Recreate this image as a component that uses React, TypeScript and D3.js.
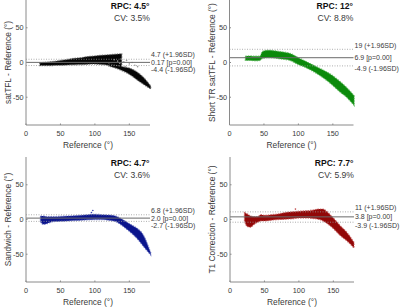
import React from 'react';
import * as d3 from 'd3';

// ---------- data ----------
const xTicks = [0, 50, 100, 150];
const yTicks = [-50, 0, 50];

const panelNames = ['satTFL', 'Short TR satTFL', 'Sandwich', 'T1 Correction'];
const rpcValues = ['4.5', '12', '4.7', '7.7'];
const cvValues = ['3.5', '8.8', '3.6', '5.9'];
const meanValues = [0.17, 6.9, 2.0, 3.8];
const upperLoA = [4.7, 19, 6.8, 11];
const lowerLoA = [-4.4, -4.9, -2.7, -3.9];
const meanLabels = ['0.17', '6.9', '2.0', '3.8'];
const upperLabels = ['4.7', '19', '6.8', '11'];
const lowerLabels = ['-4.4', '-4.9', '-2.7', '-3.9'];
const colors = ['#050505', '#0b8a0b', '#0a148c', '#920808'];
const edgeColors = ['#555555', '#4fb04f', '#4a55b5', '#c04a4a'];

// satTFL point cloud envelope (main branch + descending tail)
const satX = [20, 30, 40, 50, 60, 70, 80, 90, 100, 110, 120, 130, 139];
const satUpper = [-0.5, 0.5, 1.5, 3, 4.5, 6, 7, 8.5, 9.5, 10.5, 11, 12, 12.5];
const satLower = [-4.5, -4.6, -4.3, -4, -3.5, -3.3, -3, -2.5, -2.3, -3, -4, -5.5, -7];
const satTailX = [120, 130, 140, 150, 160, 170, 181];
const satTailUpper = [-2, -4, -6, -8, -13, -21, -34];
const satTailLower = [-5, -8, -12, -17, -24, -31, -38];
const satOutX = [128, 133, 138, 142, 146, 150, 154, 158, 136, 144, 162];
const satOutY = [4, 2, 5, 1, 3, -2, 0, -4, -1, -6, -6];

// Short TR satTFL envelope
const shortX = [23, 30, 38, 44, 48, 55, 65, 75, 88, 100, 110, 120, 130, 140, 150, 160, 170, 181];
const shortUpper = [9, 9.5, 9, 9, 16, 17.5, 17, 15.5, 13, 7, 2, -3, -8, -13, -19, -27, -36, -48];
const shortLower = [3, 3, 2.5, 3, 6, 7, 6.5, 5, 3, -3, -7, -12, -18, -25, -33, -42, -50, -62];

// Sandwich envelope
const sandX = [21, 25, 30, 40, 50, 60, 70, 80, 90, 100, 110, 120, 130, 140, 150, 160, 170, 181];
const sandUpper = [5, 5, 4, 4, 4.5, 5, 5.5, 6, 7, 7.5, 7, 6.5, 5, 0, -6, -12, -22, -48];
const sandLower = [-3, -7, -6, -3, -2.5, -2, -1.5, -1, -0.5, 0, 0, -1, -3, -9, -17, -26, -38, -51];
const sandOutX = [97, 95];
const sandOutY = [13, 10];

// T1 Correction envelope
const t1X = [21, 25, 30, 35, 40, 45, 50, 60, 70, 80, 90, 100, 110, 120, 130, 135, 140, 150, 160, 170, 180];
const t1Upper = [10, 8, 5, 4, 4, 7, 6, 7, 8, 10, 11, 12, 12.5, 13.5, 15, 15, 12, 2, -9, -19, -33];
const t1Lower = [-2, -10, -11, -7, -4, -2, -2, -1, 0, 0.5, 1, 2, 2, 1.5, 0, -2, -5, -13, -23, -31, -41];
const t1OutX = [95];
const t1OutY = [15];

// ---------- layout ----------
const plotLeft = [26, 229.5, 26, 230];
const plotTop = [0, 0, 157, 157];
const plotW = 124;
const plotH = 125;

type Band = { x: number[]; up: number[]; lo: number[] };
const bands: Band[][] = [
  [
    { x: satX, up: satUpper, lo: satLower },
    { x: satTailX, up: satTailUpper, lo: satTailLower },
  ],
  [{ x: shortX, up: shortUpper, lo: shortLower }],
  [{ x: sandX, up: sandUpper, lo: sandLower }],
  [{ x: t1X, up: t1Upper, lo: t1Lower }],
];
const outliers: { x: number[]; y: number[]; c: string }[] = [
  { x: satOutX, y: satOutY, c: '#9a9a9a' },
  { x: [], y: [], c: '#000' },
  { x: sandOutX, y: sandOutY, c: '#3a45b0' },
  { x: t1OutX, y: t1OutY, c: '#c04a4a' },
];

const FONT = '"Liberation Sans", Arial, Helvetica, sans-serif';
const AXIS = '#8a8a8a';
const TEXT = '#3a3a3a';

function Panel({ i }: { i: number }) {
  const L = plotLeft[i];
  const T = plotTop[i];
  const x = d3.scaleLinear().domain([0, 180]).range([L, L + plotW]);
  const y = d3.scaleLinear().domain([-90, 90]).range([T + plotH, T]);
  const R = L + plotW;
  const B = T + plotH;

  const meanY = y(meanValues[i]);
  let upLabY = y(upperLoA[i]) - 4;
  let loLabY = y(lowerLoA[i]) + 3;
  upLabY = Math.min(upLabY, meanY - 7.5);
  loLabY = Math.max(loLabY, meanY + 7.5);

  return (
    <g>
      {/* point cloud */}
      {bands[i].map((b, k) => {
        const pts = b.x.map((xv, j) => ({ x: xv, u: b.up[j], l: b.lo[j] }));
        const area = d3
          .area<{ x: number; u: number; l: number }>()
          .x((d) => x(d.x))
          .y0((d) => y(d.l))
          .y1((d) => y(d.u))
          .curve(d3.curveMonotoneX);
        return (
          <g key={k}>
            <path d={area(pts) || ''} fill={colors[i]} stroke={edgeColors[i]} strokeWidth={1.3} strokeOpacity={0.7} strokeDasharray="1.5 1" />
          </g>
        );
      })}
      {outliers[i].x.map((xv, j) => (
        <circle key={j} cx={x(xv)} cy={y(outliers[i].y[j])} r={0.8} fill={outliers[i].c} />
      ))}

      {/* limits of agreement */}
      <line x1={L} x2={R} y1={y(upperLoA[i])} y2={y(upperLoA[i])} stroke="#9a9a9a" strokeWidth={0.8} strokeDasharray="1 1.5" />
      <line x1={L} x2={R} y1={y(lowerLoA[i])} y2={y(lowerLoA[i])} stroke="#9a9a9a" strokeWidth={0.8} strokeDasharray="1 1.5" />
      <line x1={L} x2={R} y1={meanY} y2={meanY} stroke="#6a6a6a" strokeWidth={1} />

      {/* axes */}
      <line x1={L} x2={L} y1={T} y2={B} stroke={AXIS} strokeWidth={1} />
      <line x1={L} x2={R} y1={B} y2={B} stroke={AXIS} strokeWidth={1} />
      {xTicks.map((t) => (
        <g key={'x' + t}>
          <line x1={x(t)} x2={x(t)} y1={B} y2={B - 1.5} stroke={AXIS} />
          <text x={x(t)} y={B + 8.3} dy="0.35em" textAnchor="middle" fontSize={7.3} fill={TEXT} fontFamily={FONT}>
            {t}
          </text>
        </g>
      ))}
      {yTicks.map((t) => (
        <g key={'y' + t}>
          <line x1={L} x2={L + 1.5} y1={y(t)} y2={y(t)} stroke={AXIS} />
          <text x={L - 2.5} y={y(t)} dy="0.35em" textAnchor="end" fontSize={7.3} fill={TEXT} fontFamily={FONT}>
            {t}
          </text>
        </g>
      ))}

      {/* axis labels */}
      <text x={(L + R) / 2} y={B + 20} dy="0.35em" textAnchor="middle" fontSize={8.4} fill={TEXT} fontFamily={FONT}>
        Reference (°)
      </text>
      <text
        transform={`translate(${L - 17.8},${(T + B) / 2}) rotate(-90)`}
        dy="0.35em"
        textAnchor="middle"
        fontSize={8.4}
        fill={TEXT}
        fontFamily={FONT}
      >
        {panelNames[i]} - Reference (°)
      </text>

      {/* RPC / CV */}
      <text x={R - 0.5} y={T + 5.8} dy="0.35em" textAnchor="end" fontSize={8.6} fontWeight="bold" fill="#111" fontFamily={FONT}>
        RPC: {rpcValues[i]}°
      </text>
      <text x={R} y={T + 18} dy="0.35em" textAnchor="end" fontSize={8.6} fill={TEXT} fontFamily={FONT}>
        CV: {cvValues[i]}%
      </text>

      {/* LoA labels */}
      <text x={R + 1} y={upLabY} dy="0.35em" fontSize={7} fill={TEXT} fontFamily={FONT}>
        {upperLabels[i]} (+1.96SD)
      </text>
      <text x={R + 1} y={meanY} dy="0.35em" fontSize={7} fill={TEXT} fontFamily={FONT}>
        {meanLabels[i]} [p=0.00]
      </text>
      <text x={R + 1} y={loLabY} dy="0.35em" fontSize={7} fill={TEXT} fontFamily={FONT}>
        {lowerLabels[i]} (-1.96SD)
      </text>
    </g>
  );
}

export default function App() {
  return (
    <svg
      width={400}
      height={307}
      viewBox="0 0 400 307"
      style={{ position: 'absolute', left: 0, top: 0, background: '#fff' }}
    >
      <rect x={0} y={0} width={400} height={307} fill="#fff" />
      {[0, 1, 2, 3].map((i) => (
        <Panel key={i} i={i} />
      ))}
    </svg>
  );
}
